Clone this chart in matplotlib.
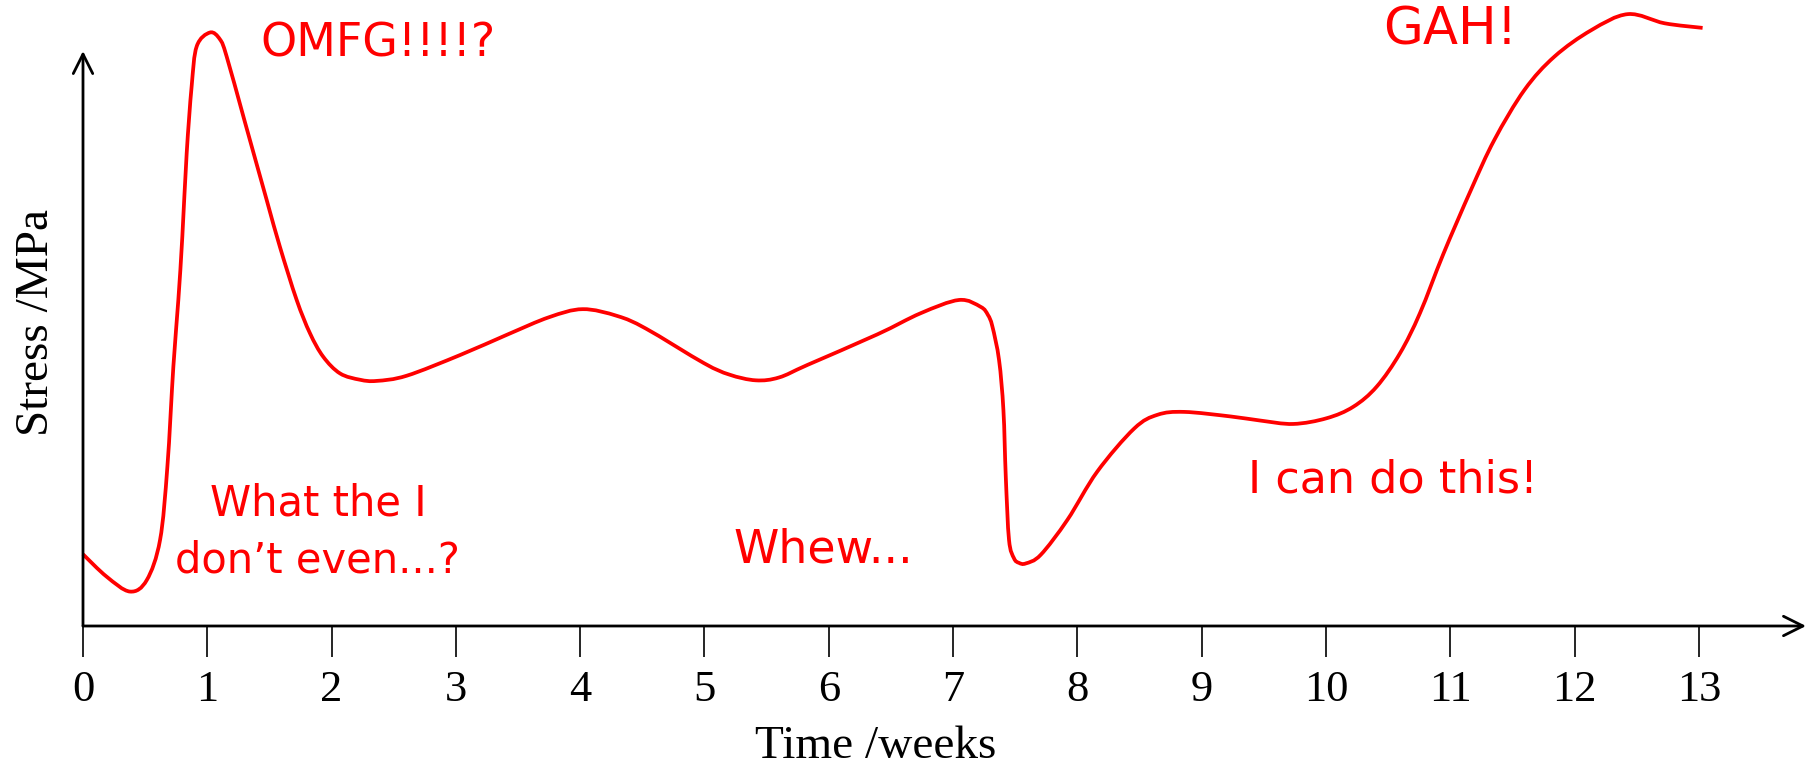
import matplotlib.pyplot as plt
from matplotlib.path import Path
from matplotlib.patches import PathPatch

plt.rcParams['font.family'] = 'Liberation Serif'

# curve (time in weeks, stress in arbitrary units)
weeks = [0.0, 0.19, 0.378, 0.513, 0.62, 0.679, 0.727, 0.767, 0.799, 0.834,
         0.874, 0.915, 1.022, 1.102, 1.156, 1.30, 1.478, 1.585, 1.719, 1.826,
         1.933, 2.068, 2.229, 2.363, 2.604, 3.033, 3.417, 3.75,
         4.02, 4.3, 4.53, 4.995, 5.2, 5.413, 5.6, 5.83, 6.39, 6.74,
         7.048, 7.222, 7.28, 7.316, 7.37, 7.405, 7.424, 7.45, 7.49, 7.53,
         7.585, 7.705, 7.92, 8.16, 8.457, 8.645, 8.86, 9.235, 9.469, 9.737,
         10.006, 10.22, 10.408, 10.595, 10.756, 10.944, 11.167, 11.355, 11.597, 11.838,
         12.134, 12.429, 12.725, 13.03]
stress = [12.5, 8.6, 6.0, 8.0, 15.0, 27.8, 45.2, 56.8, 67.8, 82.3,
          94.0, 101.0, 103.4, 102.2, 99.2, 88.0, 74.2, 66.0, 56.8, 51.0,
          46.9, 44.0, 42.9, 42.7, 43.6, 47.2, 50.8, 53.8,
          55.2, 54.0, 51.8, 45.8, 43.8, 42.8, 43.3, 45.5, 50.8, 54.5,
          56.8, 55.6, 54.2, 52.2, 46.3, 37.6, 26.0, 15.0, 11.8, 11.0,
          10.9, 12.4, 18.5, 26.9, 34.4, 36.8, 37.3, 36.5, 35.8, 35.2,
          36.2, 38.2, 41.7, 47.5, 54.5, 64.8, 76.0, 84.7, 93.4, 99.2,
          103.8, 106.6, 105.0, 104.2]

tick_weeks = list(range(14))

notes = ['OMFG!!!!?', 'What the I\ndon\u2019t even...?', 'Whew...', 'I can do this!', 'GAH!']
note_x = [2.373, 1.89, 5.96, 10.54, 11.0]
note_y = [101.4, 16.4, 13.2, 25.4, 103.7]
note_size = [33, 30, 33, 32, 37]


def smooth_path(xs, ys):
    # catmull-rom through the points, drawn as cubic bezier segments
    verts = [(xs[0], ys[0])]
    codes = [Path.MOVETO]
    n = len(xs)
    for i in range(n - 1):
        x0, y0 = (xs[i - 1], ys[i - 1]) if i > 0 else (xs[i], ys[i])
        x3, y3 = (xs[i + 2], ys[i + 2]) if i + 2 < n else (xs[i + 1], ys[i + 1])
        x1, y1 = xs[i], ys[i]
        x2, y2 = xs[i + 1], ys[i + 1]
        c1 = (x1 + (x2 - x0) / 6, y1 + (y2 - y0) / 6)
        c2 = (x2 - (x3 - x1) / 6, y2 - (y3 - y1) / 6)
        verts += [c1, c2, (x2, y2)]
        codes += [Path.CURVE4] * 3
    return Path(verts, codes)


fig = plt.figure(figsize=(18.08, 7.66), dpi=100)
ax = fig.add_axes([83 / 1808, 140 / 766, 1725 / 1808, 626 / 766])

ax.add_patch(PathPatch(smooth_path(weeks, stress), facecolor='none', edgecolor='red',
                       lw=2.7, clip_on=False))
ax.set_xlim(0, 13.878)
ax.set_ylim(0, 109.06)

for s in ax.spines.values():
    s.set_visible(False)

ax.set_xticks(tick_weeks)
ax.set_yticks([])
ax.tick_params(axis='x', direction='out', length=22, width=1.2, pad=10, labelsize=32)

# axes drawn as arrows
arrow = dict(arrowstyle='->,head_length=0.7,head_width=0.35', lw=2, color='black',
             shrinkA=0, shrinkB=0, mutation_scale=20)
ax.annotate('', xy=(13.862, 0), xytext=(0, 0), arrowprops=arrow, annotation_clip=False)
ax.annotate('', xy=(0, 100.17), xytext=(0, 0), arrowprops=arrow, annotation_clip=False)

ax.set_xlabel('Time /weeks', fontsize=34)
ax.xaxis.set_label_coords(0.4597, -0.1933)
ax.xaxis.label.set_va('center')
ax.set_ylabel('Stress /MPa', fontsize=34)
ax.yaxis.set_label_coords(-0.0267, 0.4856)
ax.yaxis.label.set_va('center')

for txt, x, y, fs in zip(notes, note_x, note_y, note_size):
    ax.text(x, y, txt, color='red', fontsize=fs, ha='center', va='center',
            family='DejaVu Sans', linespacing=1.45, multialignment='center')

fig.savefig('out.png', dpi=100)
